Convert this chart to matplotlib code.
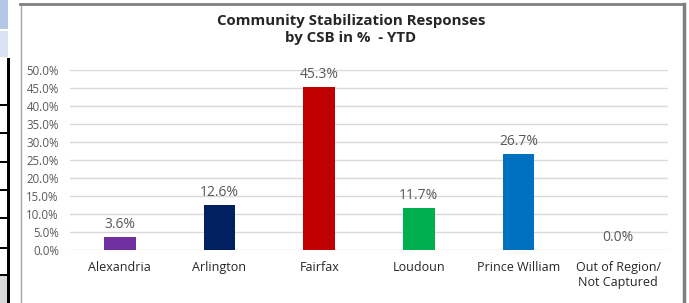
import matplotlib
matplotlib.use("Agg")
import matplotlib.pyplot as plt
from matplotlib.patches import Rectangle
from matplotlib.lines import Line2D
from matplotlib.ticker import PercentFormatter

categorias = ["Alexandria", "Arlington", "Fairfax", "Loudoun", "Prince William",
              "Out of Region/\nNot Captured"]
valores = [3.6, 12.6, 45.3, 11.7, 26.7, 0.0]
cores = ["#7030A0", "#002060", "#C00000", "#00B050", "#0070C0", "#FFFFFF"]

plt.rcParams['font.family'] = ['Open Sans', 'DejaVu Sans']

W, H = 689, 303
fig = plt.figure(figsize=(W / 100, H / 100), dpi=100)

# pedaco da planilha na esquerda
def px(x0, y0, w, h, **kw):
    fig.patches.append(Rectangle((x0 / W, 1 - (y0 + h) / H), w / W, h / H,
                                 transform=fig.transFigure, **kw))

px(0, 0, 8, 29, color="#B4C7E7", lw=0)
px(0, 31, 8, 26, color="#D9E1F2", lw=0)
px(0, 276, 8, 27, color="#D9D9D9", lw=0)
for y in [105, 133, 162, 190, 218, 248, 275]:
    px(0, y - 1, 8, 2, color="black", lw=0)
px(7, 58, 2.5, 245, color="black", lw=0)

# moldura do grafico
fig.lines.append(Line2D([20.5 / W, 20.5 / W], [0, 1 - 4 / H], transform=fig.transFigure,
                        color="#A6A6A6", lw=1))
fig.lines.append(Line2D([20 / W, 684 / W], [1 - 4 / H, 1 - 4 / H], transform=fig.transFigure,
                        color="#7F7F7F", lw=2))
fig.lines.append(Line2D([683.5 / W, 683.5 / W], [0, 1 - 4 / H], transform=fig.transFigure,
                        color="#7F7F7F", lw=2.5))

ax = fig.add_axes([70 / W, 1 - 250 / H, 598 / W, 180 / H])
x = list(range(len(categorias)))
barras = ax.bar(x, valores, width=0.32, color=cores, zorder=3)

for xi, v in zip(x, valores):
    ax.text(xi, v + 1.4, f"{v:.1f}%", ha="center", va="bottom",
            fontsize=10, color="#595959", clip_on=False)

ax.set_ylim(0, 50)
ax.set_xlim(-0.5, len(categorias) - 0.5)
ax.set_yticks([i * 5 for i in range(11)])
ax.yaxis.set_major_formatter(PercentFormatter(decimals=1))
ax.set_xticks(x)
ax.set_xticklabels(categorias, fontsize=9, color="#262626")
ax.tick_params(axis="y", labelsize=8.3, labelcolor="#595959", length=0, pad=8)
ax.tick_params(axis="x", length=0, pad=8)
ax.grid(axis="y", color="#D9D9D9", lw=1, zorder=0)
for s in ax.spines.values():
    s.set_visible(False)

fig.text(351 / W, 1 - 29.5 / H, "Community Stabilization Responses\nby CSB in %  - YTD",
         ha="center", va="center", fontsize=10.8, fontweight="bold", color="#262626",
         linespacing=1.25)

fig.savefig("out.png", dpi=100)
